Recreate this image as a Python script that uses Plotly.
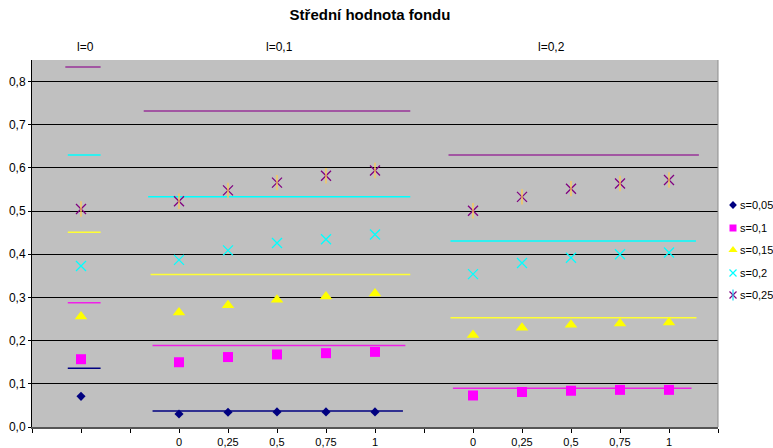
import plotly.graph_objects as go

# ---------------- data ----------------
title_text = "Střední hodnota fondu"
group_labels = ["l=0", "l=0,1", "l=0,2"]
j_labels = ["0", "0,25", "0,5", "0,75", "1"]
y_tick_values = [0.0, 0.1, 0.2, 0.3, 0.4, 0.5, 0.6, 0.7, 0.8]
y_tick_labels = ["0,0", "0,1", "0,2", "0,3", "0,4", "0,5", "0,6", "0,7", "0,8"]
series_names = ["s=0,05", "s=0,1", "s=0,15", "s=0,2", "s=0,25"]

# points: l=0 (single), l=0,1 (j = 0..1), l=0,2 (j = 0..1)
s005_l0 = [0.071]
s005_l01 = [0.030, 0.034, 0.035, 0.035, 0.035]
s005_l02 = [None, None, None, None, None]

s01_l0 = [0.157]
s01_l01 = [0.150, 0.162, 0.168, 0.171, 0.174]
s01_l02 = [0.073, 0.081, 0.084, 0.086, 0.086]

s015_l0 = [0.256]
s015_l01 = [0.265, 0.282, 0.295, 0.302, 0.309]
s015_l02 = [0.213, 0.230, 0.237, 0.240, 0.242]

s02_l0 = [0.373]
s02_l01 = [0.387, 0.409, 0.426, 0.435, 0.446]
s02_l02 = [0.354, 0.380, 0.392, 0.400, 0.404]

s025_l0 = [0.505]
s025_l01 = [0.523, 0.548, 0.566, 0.582, 0.594]
s025_l02 = [0.501, 0.533, 0.552, 0.564, 0.572]

# horizontal reference levels per group (one per s)
ref_l0 = [0.136, 0.288, 0.451, 0.630, 0.834]
ref_l01 = [0.037, 0.189, 0.353, 0.533, 0.732]
ref_l02 = [None, 0.090, 0.253, 0.431, 0.630]

# ---------------- layout / style ----------------
pos_l0 = [1]
pos_l01 = [3, 4, 5, 6, 7]
pos_l02 = [9, 10, 11, 12, 13]
span_l0 = [(0.73, 1.40), (0.73, 1.40), (0.73, 1.40), (0.73, 1.40), (0.68, 1.40)]
span_l01 = [(2.46, 7.57), (2.46, 7.62), (2.42, 7.72), (2.37, 7.72), (2.28, 7.72)]
span_l02 = [None, (8.59, 13.46), (8.54, 13.56), (8.54, 13.55), (8.50, 13.61)]

colors = ["#000080", "#FF00FF", "#FFFF00", "#00FFFF", "#800080"]
line_colors = ["#000080", "#F020E8", "#FFFF33", "#00FFFF", "#993399"]
symbols = ["diamond", "square", "triangle-up", "x-thin-open", "x-thin-open"]
sizes = [7, 10, 11, 10, 10]
FONT = "Liberation Sans, Arial, sans-serif"

series_points = [
    (s005_l0, s005_l01, s005_l02),
    (s01_l0, s01_l01, s01_l02),
    (s015_l0, s015_l01, s015_l02),
    (s02_l0, s02_l01, s02_l02),
    (s025_l0, s025_l01, s025_l02),
]
refs = [ref_l0, ref_l01, ref_l02]
spans = [span_l0, span_l01, span_l02]
positions = [pos_l0, pos_l01, pos_l02]

fig = go.Figure()

# reference lines
for g in range(3):
    for k in range(5):
        v = refs[g][k]
        sp = spans[g][k]
        if v is None or sp is None:
            continue
        fig.add_trace(go.Scatter(
            x=[sp[0], sp[1]], y=[v, v], mode="lines",
            line=dict(color=line_colors[k], width=1.5),
            showlegend=False, hoverinfo="skip"))

# points
for k in range(5):
    xs, ys = [], []
    for g in range(3):
        xs += positions[g]
        ys += series_points[k][g]
    mk = dict(symbol=symbols[k], size=sizes[k], color=colors[k],
              line=dict(color=colors[k], width=1.3 if "open" in symbols[k] else 0))
    fig.add_trace(go.Scatter(x=xs, y=ys, mode="markers", marker=mk,
                             name=series_names[k], showlegend=False))
    if k == 4:
        fig.add_trace(go.Scatter(
            x=xs, y=ys, mode="markers",
            marker=dict(symbol="line-ns-open", size=11,
                        line=dict(color=colors[k], width=1.3)),
            showlegend=False, hoverinfo="skip"))

# manual legend (x2/y2 in figure pixel coordinates)
leg_y = [205, 228, 250, 273, 295]
leg_sizes = [6, 7, 8, 7, 7]
for k in range(5):
    mk = dict(symbol=symbols[k], size=leg_sizes[k], color=colors[k],
              line=dict(color=colors[k], width=1.2 if "open" in symbols[k] else 0))
    fig.add_trace(go.Scatter(x=[733], y=[leg_y[k]], mode="markers", marker=mk,
                             xaxis="x2", yaxis="y2", showlegend=False,
                             hoverinfo="skip", cliponaxis=False))
    if k == 4:
        fig.add_trace(go.Scatter(
            x=[733], y=[leg_y[k]], mode="markers",
            marker=dict(symbol="line-ns-open", size=8,
                        line=dict(color=colors[k], width=1.2)),
            xaxis="x2", yaxis="y2", showlegend=False, hoverinfo="skip",
            cliponaxis=False))
    fig.add_annotation(x=738, y=leg_y[k], xref="x2", yref="y2", text=series_names[k],
                       showarrow=False, xanchor="left", yanchor="middle",
                       font=dict(family=FONT, size=11, color="#000"))

tickvals = list(range(15))
ticktext = [""] * 15
for i, p in enumerate(pos_l01):
    ticktext[p] = j_labels[i]
for i, p in enumerate(pos_l02):
    ticktext[p] = j_labels[i]

main_w = 686 / 741
fig.update_layout(
    width=773, height=448,
    margin=dict(l=32, r=0, t=60, b=21, autoexpand=False),
    paper_bgcolor="white", plot_bgcolor="white",
    showlegend=False,
    font=dict(family=FONT, size=11, color="#000"),
    title=dict(text="<b>" + title_text + "</b>", x=370 / 773, xref="container",
               xanchor="center", y=1 - 15 / 448, yref="container", yanchor="middle",
               font=dict(family=FONT, size=15, color="#000")),
    xaxis=dict(domain=[0, main_w], range=[0, 14], tickmode="array",
               tickvals=tickvals, ticktext=ticktext, ticks="outside", ticklen=4,
               tickcolor="#000", tickwidth=1, showgrid=False, zeroline=False,
               showline=True, linecolor="#555", linewidth=2, automargin=False,
               tickfont=dict(family=FONT, size=11, color="#000")),
    yaxis=dict(range=[0, 0.85], tickmode="array", tickvals=y_tick_values,
               ticktext=y_tick_labels, ticks="outside", ticklen=3, tickcolor="#000",
               showgrid=True, gridcolor="#000", gridwidth=1, zeroline=False,
               showline=True, linecolor="#000", linewidth=1, automargin=False,
               tickfont=dict(family=FONT, size=12, color="#000")),
    xaxis2=dict(domain=[main_w, 1], range=[32 + 686, 773], visible=False,
                anchor="y2", fixedrange=True, automargin=False),
    yaxis2=dict(domain=[0, 1], range=[427, 60], visible=False, anchor="x2",
                fixedrange=True, automargin=False),
)

# plot area background and right border
fig.add_shape(type="rect", xref="x domain", yref="y domain", x0=0, x1=1, y0=0, y1=1,
              fillcolor="#C0C0C0", line=dict(width=0), layer="below")
fig.add_shape(type="line", xref="x domain", yref="y domain", x0=1, x1=1, y0=0, y1=1,
              line=dict(color="#8c8c8c", width=1))

# group labels
group_x = [1.1, 5.05, 10.6]
for g in range(3):
    fig.add_annotation(x=group_x[g], y=1, xref="x", yref="paper", text=group_labels[g],
                       showarrow=False, yanchor="bottom", yshift=4,
                       font=dict(family=FONT, size=12, color="#000"))

# axis title "j"
fig.add_annotation(x=733, y=442, xref="x2", yref="y2", text="j", showarrow=False,
                   xanchor="center", yanchor="middle",
                   font=dict(family=FONT, size=11, color="#000"))

fig.write_html(
    "out.html",
    config={"displayModeBar": False},
    post_script="document.body.style.margin='0';document.body.style.overflow='hidden';",
)
